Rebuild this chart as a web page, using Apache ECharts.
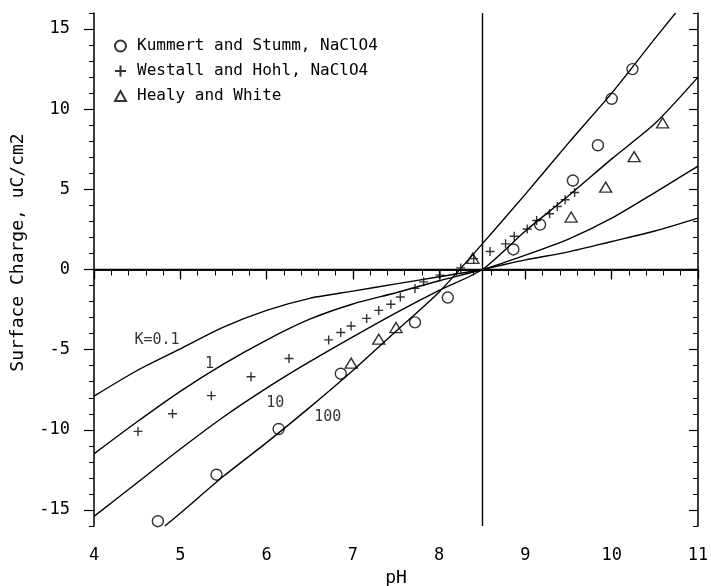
<!DOCTYPE html>
<html>
<head>
<meta charset="utf-8">
<script src="https://cdn.jsdelivr.net/npm/echarts@6/dist/echarts.min.js"></script>
<style>
  html, body { margin: 0; padding: 0; background: #fff; }
  #chart { width: 711px; height: 586px; }
</style>
</head>
<body>
<div id="chart"></div>
<script>
// tick labels
var xTicks = [4, 5, 6, 7, 8, 9, 10, 11]
var yTicks = [-15, -10, -5, 0, 5, 10, 15]
var yMinorTicks = [-16, -14, -13, -12, -11, -9, -8, -7, -6, -4, -3, -2, -1, 1, 2, 3, 4, 6, 7, 8, 9, 11, 12, 13, 14, 16]

// model curves [pH, charge]
var curveK01 = [[4, -7.9], [4.5, -6.3], [5, -4.95], [5.5, -3.6], [6, -2.55], [6.5, -1.8], [7, -1.35], [7.5, -0.9], [8, -0.45], [8.5, 0], [9, 0.6], [9.5, 1.1], [10, 1.75], [10.5, 2.4], [11, 3.2]]
var curveK1 = [[4, -11.5], [4.5, -9.5], [5, -7.6], [5.5, -5.9], [6, -4.4], [6.5, -3.1], [7, -2.15], [7.5, -1.45], [8, -0.7], [8.5, 0], [9, 0.9], [9.5, 1.9], [10, 3.2], [10.5, 4.8], [11, 6.45]]
var curveK10 = [[4, -15.4], [4.5, -13.3], [5, -11.2], [5.5, -9.2], [6, -7.4], [6.5, -5.75], [7, -4.2], [7.5, -2.7], [8, -1.3], [8.5, 0], [9, 2.4], [9.5, 4.6], [10, 6.9], [10.5, 9.1], [11, 12.0]]
var curveK100 = [[4.82, -16], [5, -15.2], [5.5, -12.9], [6, -10.8], [6.5, -8.6], [7, -6.3], [7.5, -3.85], [8, -1.4], [8.5, 1.6], [9, 4.7], [9.5, 7.9], [10, 11.0], [10.5, 14.4], [10.74, 16]]

// measured points [pH, charge]
var kummertStumm = [[4.74, -15.7], [5.42, -12.8], [6.14, -9.95], [6.86, -6.5], [7.72, -3.3], [8.1, -1.75], [8.86, 1.25], [9.17, 2.8], [9.55, 5.55], [9.84, 7.75], [10.0, 10.65], [10.24, 12.5]]
var westallHohl = [[4.51, -10.1], [4.91, -9.0], [5.36, -7.87], [5.82, -6.69], [6.26, -5.55], [6.72, -4.39], [6.86, -3.93], [6.98, -3.52], [7.16, -3.05], [7.3, -2.55], [7.44, -2.17], [7.55, -1.72], [7.72, -1.18], [7.82, -0.77], [8.01, -0.35], [8.25, 0.1], [8.4, 0.68], [8.59, 1.12], [8.77, 1.6], [8.87, 2.07], [9.02, 2.53], [9.13, 3.06], [9.28, 3.48], [9.37, 3.93], [9.46, 4.35], [9.57, 4.8]]
var healyWhite = [[6.98, -5.84], [7.3, -4.35], [7.5, -3.62], [8.39, 0.7], [9.53, 3.27], [9.93, 5.14], [10.26, 7.04], [10.59, 9.15]]

var curveNames = ['K=0.1', '1', '10', '100']
var curveLabelAt = [[4.73, -4.38], [5.34, -5.93], [6.1, -8.35], [6.71, -9.2]]

var font = 'DejaVu Sans Mono'
var black = '#000'

function curve (data) {
  return {
    type: 'line',
    data: data,
    smooth: 0.25,
    symbol: 'none',
    silent: true,
    lineStyle: { color: black, width: 1.4 }
  }
}

function frameAxis (pos, inside, len, opt) {
  return Object.assign({
    position: pos,
    axisLine: { show: true, lineStyle: { color: black, width: 1.5 } },
    axisTick: { show: true, inside: inside, length: len, lineStyle: { color: black, width: 1.2 } },
    axisLabel: { show: false },
    splitLine: { show: false }
  }, opt)
}

var chart = echarts.init(document.getElementById('chart'))

chart.setOption({
  animation: false,
  backgroundColor: '#fff',
  grid: { left: 94, right: 13, top: 13, bottom: 60, containLabel: false, outerBoundsMode: 'none' },
  legend: {
    data: ['Kummert and Stumm, NaClO4', 'Westall and Hohl, NaClO4', 'Healy and White'],
    orient: 'vertical',
    left: 109,
    top: 33,
    itemWidth: 11,
    itemHeight: 11,
    itemGap: 9,
    selectedMode: false,
    textStyle: { fontFamily: font, fontSize: 16, color: black, padding: [0, 0, 0, 6] }
  },
  xAxis: [
    frameAxis('bottom', false, 10, {
      type: 'value', min: 4, max: 11, interval: 1,
      name: 'pH', nameLocation: 'middle', nameGap: 43,
      nameTextStyle: { fontFamily: font, fontSize: 18, color: black },
      axisLabel: { show: true, margin: 21, fontFamily: font, fontSize: 17, color: black },
      minorTick: { show: true, splitNumber: 5, length: 6, lineStyle: { color: black, width: 1 } }
    }),
    frameAxis('top', true, 9, {
      type: 'value', min: 4, max: 11, interval: 1,
      minorTick: { show: true, splitNumber: 5, length: 4, lineStyle: { color: black, width: 1 } }
    })
  ],
  yAxis: [
    frameAxis('left', false, 10, {
      type: 'value', min: -16, max: 16,
      name: 'Surface Charge, uC/cm2', nameLocation: 'middle', nameGap: 67,
      nameTextStyle: { fontFamily: font, fontSize: 18, color: black, padding: [0, 0, 0, 34] },
      axisTick: { show: true, inside: false, length: 10, customValues: yTicks, lineStyle: { color: black, width: 1.2 } },
      axisLabel: { show: true, customValues: yTicks, margin: 24, fontFamily: font, fontSize: 17, color: black }
    }),
    frameAxis('left', false, 5, {
      type: 'value', min: -16, max: 16,
      axisLine: { show: false },
      axisTick: { show: true, inside: false, length: 5, customValues: yMinorTicks, lineStyle: { color: black, width: 1 } }
    }),
    frameAxis('right', true, 9, {
      type: 'value', min: -16, max: 16,
      axisTick: { show: true, inside: true, length: 9, customValues: yTicks, lineStyle: { color: black, width: 1.2 } }
    }),
    frameAxis('right', true, 5, {
      type: 'value', min: -16, max: 16,
      axisLine: { show: false },
      axisTick: { show: true, inside: true, length: 5, customValues: yMinorTicks, lineStyle: { color: black, width: 1 } }
    })
  ],
  series: [
    Object.assign(curve(curveK01), {
      markLine: {
        silent: true,
        symbol: 'none',
        label: { show: false },
        lineStyle: { color: black, width: 1.4, type: 'solid' },
        data: [{ xAxis: 8.5 }, { yAxis: 0 }]
      }
    }),
    curve(curveK1),
    curve(curveK10),
    curve(curveK100),
    {
      name: 'curve labels',
      type: 'scatter',
      silent: true,
      symbolSize: 0,
      data: curveLabelAt.map(function (p, i) { return { name: curveNames[i], value: p } }),
      label: { show: true, position: 'inside', formatter: '{b}', fontFamily: font, fontSize: 15, color: black }
    },
    {
      name: 'Kummert and Stumm, NaClO4',
      type: 'scatter',
      data: kummertStumm,
      symbol: 'circle',
      symbolSize: 11,
      itemStyle: { color: 'rgba(255,255,255,0)', borderColor: black, borderWidth: 1.4 }
    },
    {
      name: 'Westall and Hohl, NaClO4',
      type: 'scatter',
      data: westallHohl,
      symbol: 'path://M0,5L10,5M5,0L5,10',
      symbolSize: 9,
      itemStyle: { color: 'rgba(255,255,255,0)', borderColor: black, borderWidth: 1.4 }
    },
    {
      name: 'Healy and White',
      type: 'scatter',
      data: healyWhite,
      symbol: 'path://M5,0L10,9L0,9Z',
      symbolSize: [12, 10],
      itemStyle: { color: 'rgba(255,255,255,0)', borderColor: black, borderWidth: 1.4 }
    }
  ]
})
</script>
</body>
</html>
